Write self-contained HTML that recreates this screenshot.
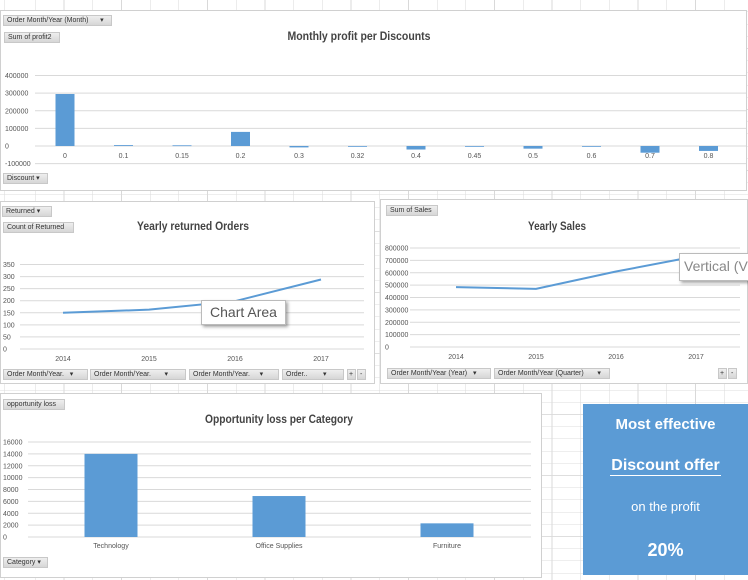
<!DOCTYPE html>
<html><head><meta charset="utf-8"><style>
body{margin:0;width:748px;height:580px;overflow:hidden;position:relative;font-family:"Liberation Sans Narrow","Liberation Sans",sans-serif;
background-color:#fff;
background-image:repeating-linear-gradient(90deg,transparent 0 28px,#d9d9d9 28px 28.7px),repeating-linear-gradient(180deg,transparent 0 11.6px,#dedede 11.6px 12.2px);background-position:7px 0,0 0;}
.panel{position:absolute;background:#fff;border:1px solid #d0d0d0;box-sizing:border-box}
.btn{position:absolute;background:linear-gradient(#eee,#d6d6d6);border:1px solid #c8c8c8;font-size:7px;color:#333;line-height:10px;padding:0 3px;box-sizing:border-box;height:11px;white-space:nowrap;overflow:hidden}
.tip{position:absolute;background:#fff;border:1px solid #bbb;box-shadow:2px 2px 3px rgba(0,0,0,.35);color:#555;font-family:"Liberation Sans",sans-serif}
svg{position:absolute;left:0;top:0}
.kpi{position:absolute;left:583px;top:404px;width:165px;height:171px;background:#5b9bd5;color:#fff;text-align:center;font-weight:bold}
.kpi div{position:absolute;left:0;width:165px}
</style></head><body>
<div class="panel" style="left:0;top:10px;width:747px;height:181px"></div>
<div class="panel" style="left:0;top:201px;width:375px;height:183px"></div>
<div class="panel" style="left:380px;top:199px;width:368px;height:185px"></div>
<div class="panel" style="left:0;top:393px;width:542px;height:185px"></div>

<svg id="chart" width="748" height="580"></svg>

<div class="btn" style="left:3px;top:15px;width:109px">Order Month/Year (Month) &nbsp;&nbsp;&nbsp;&nbsp;&nbsp;▾</div>
<div class="btn" style="left:4px;top:32px;width:56px">Sum of profit2</div>
<div class="btn" style="left:3px;top:173px;width:45px">Discount ▾</div>
<div class="btn" style="left:2px;top:206px;width:50px">Returned ▾</div>
<div class="btn" style="left:3px;top:222px;width:71px">Count of Returned</div>
<div class="btn" style="left:3px;top:369px;width:85px">Order Month/Year. &nbsp;&nbsp;▾</div>
<div class="btn" style="left:90px;top:369px;width:96px">Order Month/Year. &nbsp;&nbsp;&nbsp;&nbsp;&nbsp;&nbsp;▾</div>
<div class="btn" style="left:189px;top:369px;width:90px">Order Month/Year. &nbsp;&nbsp;&nbsp;&nbsp;▾</div>
<div class="btn" style="left:282px;top:369px;width:62px">Order.. &nbsp;&nbsp;&nbsp;&nbsp;&nbsp;&nbsp;&nbsp;▾</div>
<div class="btn" style="left:347px;top:369px;width:9px;padding:0 1px">+</div>
<div class="btn" style="left:357px;top:369px;width:9px;padding:0 2px">-</div>
<div class="btn" style="left:386px;top:205px;width:52px">Sum of Sales</div>
<div class="btn" style="left:387px;top:368px;width:104px">Order Month/Year (Year) &nbsp;&nbsp;▾</div>
<div class="btn" style="left:494px;top:368px;width:116px">Order Month/Year (Quarter) &nbsp;&nbsp;&nbsp;&nbsp;&nbsp;&nbsp;▾</div>
<div class="btn" style="left:718px;top:368px;width:9px;padding:0 1px">+</div>
<div class="btn" style="left:728px;top:368px;width:9px;padding:0 2px">-</div>
<div class="btn" style="left:3px;top:399px;width:62px">opportunity loss</div>
<div class="btn" style="left:3px;top:557px;width:45px">Category ▾</div>

<div class="tip" style="left:201px;top:300px;width:83px;height:23px;font-size:14px;line-height:22px;text-align:center">Chart Area</div>
<div class="tip" style="left:679px;top:253px;width:75px;height:26px;font-size:14px;line-height:25px;padding-left:4px;color:#888">Vertical (V</div>

<div class="kpi">
<div style="top:12px;font-size:15px">Most effective</div>
<div style="top:53px;font-size:16px"><span style="border-bottom:1px solid #fff;padding:0 1px 1px">Discount offer</span></div>
<div style="top:95px;font-size:13px;font-weight:normal">on the profit</div>
<div style="top:136px;font-size:18px">20%</div>
</div>

<script>
const profitCats=["0","0.1","0.15","0.2","0.3","0.32","0.4","0.45","0.5","0.6","0.7","0.8"];
const profitVals=[295000,5000,4000,80000,-8000,-1000,-20000,-1000,-15000,-1000,-38000,-28000];
const profitTicks=[400000,300000,200000,100000,0,-100000];
const returnYears=["2014","2015","2016","2017"];
const returnVals=[150,163,198,288];
const returnTicks=[350,300,250,200,150,100,50,0];
const salesYears=["2014","2015","2016","2017"];
const salesVals=[484000,470000,610000,733000];
const salesTicks=[800000,700000,600000,500000,400000,300000,200000,100000,0];
const oppCats=["Technology","Office Supplies","Furniture"];
const oppVals=[14000,6900,2300];
const oppTicks=[16000,14000,12000,10000,8000,6000,4000,2000,0];

const svg=document.getElementById('chart');
const NS='http://www.w3.org/2000/svg';
function mk(tag,attrs,txt){const e=document.createElementNS(NS,tag);for(const k in attrs)e.setAttribute(k,attrs[k]);if(txt!==undefined)e.textContent=txt;svg.appendChild(e);return e;}
function lin(d0,d1,r0,r1){return v=>r0+(v-d0)*(r1-r0)/(d1-d0);}
function title(x,y,t,name,w){const e=mk('text',{x:x,y:y,'text-anchor':'middle','font-size':'11.5','font-weight':'bold',fill:'#444',textLength:w,lengthAdjust:'spacingAndGlyphs','font-family':'"Liberation Sans",sans-serif'},t);

}
function yaxis(ticks,y,x0,x1,lx,name){ticks.forEach(t=>{const l=mk('line',{x1:x0,x2:x1,y1:y(t),y2:y(t),stroke:'#d9d9d9','stroke-width':1});


const tx=mk('text',{x:lx,y:y(t)+2.5,'font-size':'7',fill:'#555','text-anchor':'start'},String(t));

});}
function xlab(x,y,t,name){const e=mk('text',{x:x,y:y,'font-size':'7',fill:'#555','text-anchor':'middle'},t);

}

// Chart 1
title(359,40,'Monthly profit per Discounts','profit-chart-title',143);
const y1=lin(0,400000,146,75.5);
yaxis(profitTicks,y1,35,746,5,'profit-y');
const x1=i=>65+i*58.5;
profitVals.forEach((v,i)=>{const r=mk('rect',{x:x1(i)-9.5,y:Math.min(y1(v),y1(0)),width:19,height:Math.max(0.8,Math.abs(y1(v)-y1(0))),fill:'#5b9bd5'});


xlab(x1(i),158,profitCats[i],'profit-x-label');});

// Chart 2
title(193,230,'Yearly returned Orders','returned-chart-title',112);
const y2=lin(0,350,349,264.5);
yaxis(returnTicks,y2,20,364,3,'returned-y');
const x2=i=>63+i*86;
returnYears.forEach((t,i)=>xlab(x2(i),361,t,'returned-x-label'));
const p2=mk('polyline',{points:returnVals.map((v,i)=>x2(i)+','+y2(v)).join(' '),fill:'none',stroke:'#5b9bd5','stroke-width':2});



// Chart 3
title(557,230,'Yearly Sales','sales-chart-title',58);
const y3=lin(0,800000,347,248);
yaxis(salesTicks,y3,410,740,385,'sales-y');
const x3=i=>456+i*80;
salesYears.forEach((t,i)=>xlab(x3(i),359,t,'sales-x-label'));
const p3=mk('polyline',{points:salesVals.map((v,i)=>x3(i)+','+y3(v)).join(' '),fill:'none',stroke:'#5b9bd5','stroke-width':2});



// Chart 4
title(279,423,'Opportunity loss per Category','opportunity-chart-title',148);
const y4=lin(0,16000,537,442);
yaxis(oppTicks,y4,28,531,3,'opportunity-y');
const x4=i=>111+i*168;
oppVals.forEach((v,i)=>{const r=mk('rect',{x:x4(i)-26.5,y:y4(v),width:53,height:y4(0)-y4(v),fill:'#5b9bd5'});


xlab(x4(i),548,oppCats[i],'opportunity-x-label');});
</script>
</body></html>
